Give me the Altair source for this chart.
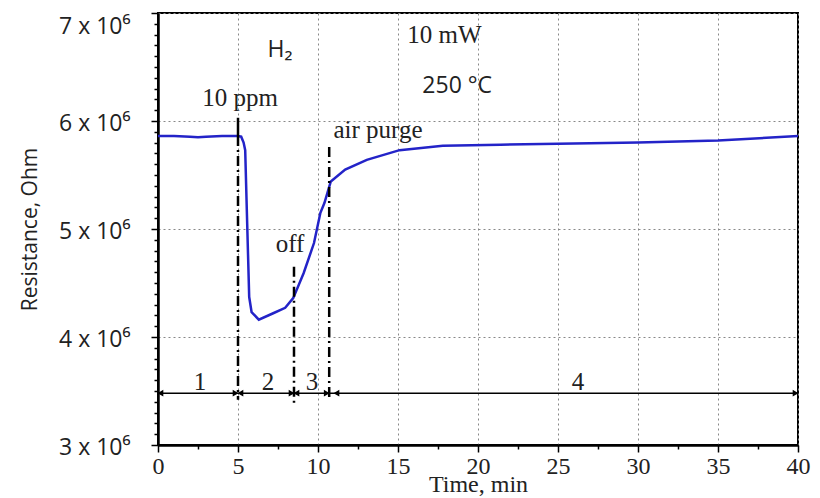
import altair as alt
import pandas as pd

# ---- data ----
time_min = [0, 1, 2, 2.5, 3, 4, 5, 5.2, 5.35, 5.45, 5.55, 5.7, 5.85, 6.3, 7.2, 7.95,
            8.45, 9.1, 9.75, 10.15, 10.4, 10.8, 11.7, 13.05, 15.1, 17.8, 21.4, 25, 30, 35, 40]
resistance_m = [5.86, 5.86, 5.855, 5.85, 5.855, 5.86, 5.86, 5.855, 5.8, 5.73, 5.18, 4.37,
                4.23, 4.16, 4.22, 4.27, 4.36, 4.59, 4.87, 5.15, 5.24, 5.44, 5.55, 5.64,
                5.73, 5.77, 5.78, 5.79, 5.80, 5.82, 5.86]

marker_t = [5, 8.5, 10.7]
marker_top = [5.86, 4.65, 5.76]
marker_bottom = [3.42, 3.37, 3.43]

solid_t = [5]
solid_top = [6.03]
solid_bottom = [5.86]

arrow_level = 3.48
arrow_t = [0.15, 4.85, 5.15, 8.35, 8.65, 10.55, 11.15, 39.85]
arrow_shape = ["triangle-left", "triangle-right"] * 4

serif_text = ["10 ppm", "10 mW", "air purge", "off", "1", "2", "3", "4"]
serif_t = [5.13, 17.9, 13.75, 8.25, 2.63, 6.88, 9.63, 26.25]
serif_v = [6.21, 6.80, 5.92, 4.86, 3.58, 3.58, 3.58, 3.58]

sans_text = ["H\u2082", "250 \u00b0C"]
sans_t = [7.63, 18.7]
sans_v = [6.66, 6.32]

x_ticks = [i * 2.5 for i in range(17)]
y_ticks = list(range(3000000, 7000001, 100000))

M = 1000000

curve = pd.DataFrame({"t": time_min, "r": [v * M for v in resistance_m]})
markers = pd.DataFrame({"t": marker_t, "top": [v * M for v in marker_top],
                        "bot": [v * M for v in marker_bottom]})
solid = pd.DataFrame({"t": solid_t, "top": [v * M for v in solid_top],
                      "bot": [v * M for v in solid_bottom]})
arrows = pd.DataFrame({"t": arrow_t, "shape": arrow_shape, "r": [arrow_level * M] * len(arrow_t)})
hline = pd.DataFrame({"t": [0], "t2": [40], "r": [arrow_level * M]})
serif_df = pd.DataFrame({"t": serif_t, "r": [v * M for v in serif_v], "text": serif_text})
sans_df = pd.DataFrame({"t": sans_t, "r": [v * M for v in sans_v], "text": sans_text})

xscale = alt.Scale(domain=[0, 40], nice=False, zero=False)
yscale = alt.Scale(domain=[3 * M, 7 * M], nice=False, zero=False)

xaxis = alt.Axis(
    values=x_ticks,
    tickCount=200,
    labelOverlap=False,
    labelExpr="datum.value % 5 === 0 ? format(datum.value, 'd') : ''",
    grid=True,
    gridDash=[2, 3],
    gridColor="#888888",
    gridOpacity={"condition": {"test": "datum.value % 5 === 0", "value": 1}, "value": 0},
    tickSize={"condition": {"test": "datum.value % 5 === 0", "value": 7}, "value": 4},
    tickColor="black",
    tickWidth=1.5,
    domainColor="black",
    domainWidth=2.5,
    labelFont="Liberation Serif",
    labelFontSize=24,
    labelColor="#222222",
    labelPadding=2,
    labelFlush=False,
    title="Time, min",
    titleFont="Liberation Serif",
    titleFontSize=24,
    titleFontWeight="normal",
    titleColor="#222222",
    titleX=320,
    titleY=39,
    titleAlign="center",
    titleBaseline="middle",
)

yaxis = alt.Axis(
    values=y_ticks,
    tickCount=200,
    labelOverlap=False,
    labelExpr="datum.value % 1000000 === 0 ? (datum.value / 1000000) + ' x 10\u2076' : ''",
    labelOffset={"condition": {"test": "datum.value === 7000000", "value": 13}, "value": 2},
    grid=True,
    gridDash=[2, 3],
    gridColor="#888888",
    gridOpacity={"condition": {"test": "datum.value % 1000000 === 0", "value": 1}, "value": 0},
    tickSize={"condition": {"test": "datum.value % 1000000 === 0", "value": 7}, "value": 4},
    tickColor="black",
    tickWidth=1.5,
    domainColor="black",
    domainWidth=2.5,
    labelFont="Open Sans",
    labelFontSize=23,
    labelColor="#222222",
    labelPadding=21,
    labelFlush=False,
    title="Resistance, Ohm",
    titleFont="Open Sans",
    titleFontSize=21,
    titleFontWeight="normal",
    titleColor="#222222",
    titleX=-128,
    titleY=216,
    titleAlign="center",
    titleBaseline="middle",
)

base_x = alt.X("t:Q", scale=xscale, axis=xaxis)
base_y = alt.Y("r:Q", scale=yscale, axis=yaxis)

line = alt.Chart(curve).mark_line(color="#2323c8", strokeWidth=2.5).encode(x=base_x, y=base_y)

vmarks = alt.Chart(markers).mark_rule(color="black", strokeWidth=2.5, strokeDash=[10, 4, 2, 4]).encode(
    x=alt.X("t:Q", scale=xscale), y=alt.Y("top:Q", scale=yscale), y2="bot:Q")

smarks = alt.Chart(solid).mark_rule(color="black", strokeWidth=2.5).encode(
    x=alt.X("t:Q", scale=xscale), y=alt.Y("top:Q", scale=yscale), y2="bot:Q")

hrule = alt.Chart(hline).mark_rule(color="black", strokeWidth=1.5).encode(
    x=alt.X("t:Q", scale=xscale), x2="t2:Q", y=alt.Y("r:Q", scale=yscale))

heads = alt.Chart(arrows).mark_point(filled=True, color="black", size=45, opacity=1).encode(
    x=alt.X("t:Q", scale=xscale), y=alt.Y("r:Q", scale=yscale),
    shape=alt.Shape("shape:N", scale=None))

serif_layer = alt.Chart(serif_df).mark_text(
    fontSize=25, color="#222222", align="center", baseline="middle", font="Liberation Serif").encode(
    x=alt.X("t:Q", scale=xscale), y=alt.Y("r:Q", scale=yscale), text="text:N")

sans_layer = alt.Chart(sans_df).mark_text(
    fontSize=23, color="#222222", align="center", baseline="middle", font="Open Sans").encode(
    x=alt.X("t:Q", scale=xscale), y=alt.Y("r:Q", scale=yscale), text="text:N")

chart = alt.layer(line, vmarks, smarks, hrule, heads, serif_layer, sans_layer).properties(
    width=640, height=432,
    autosize=alt.AutoSizeParams(type="none"),
    padding={"left": 158, "top": 13, "right": 22, "bottom": 53},
    background="white",
).configure_view(stroke="black", strokeWidth=2)

chart.save("out.html", embed_options={"renderer": "svg", "actions": False})
